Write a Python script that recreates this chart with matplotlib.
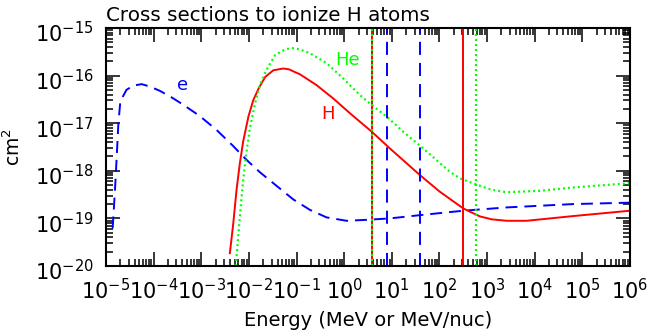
import matplotlib
matplotlib.use("Agg")
import matplotlib.pyplot as plt
from matplotlib.ticker import FixedLocator, NullFormatter, LogFormatterMathtext
from matplotlib.transforms import ScaledTranslation

plt.rcParams['font.family'] = ['DejaVu Sans']
plt.rcParams['lines.scale_dashes'] = False

# Electron impact ionization of H (E in MeV, sigma in cm^2)
e_energy = [1.38e-5, 1.55e-5, 1.68e-5, 1.82e-5, 2.0e-5, 2.69e-5, 3.72e-5, 5.62e-5,
            8.32e-5, 1.35e-4, 2.40e-4, 4.17e-4, 9.33e-4, 2.09e-3, 4.68e-3, 8.91e-3,
            1.70e-2, 3.16e-2, 8.51e-2, 0.191, 0.427, 1.12, 2.95, 9.12, 38.9, 316,
            2570, 6.46e4, 1.0e6]
e_sigma = [6.17e-20, 4.27e-19, 2.00e-18, 1.00e-17, 2.88e-17, 5.01e-17, 6.17e-17, 6.61e-17,
           5.89e-17, 4.79e-17, 3.47e-17, 2.45e-17, 1.41e-17, 7.24e-18, 3.31e-18, 1.70e-18,
           9.33e-19, 5.62e-19, 2.51e-19, 1.51e-19, 1.05e-19, 8.91e-20, 9.33e-20, 1.00e-19,
           1.17e-19, 1.45e-19, 1.70e-19, 2.00e-19, 2.14e-19]

# Proton (H) impact
h_energy = [3.98e-3, 4.68e-3, 5.50e-3, 6.46e-3, 7.59e-3, 9.77e-3, 1.23e-2, 1.58e-2,
            2.19e-2, 3.24e-2, 5.25e-2, 7.00e-2, 8.51e-2, 0.117, 0.263, 0.589, 1.32, 3.80, 9.12,
            38.9, 102, 316, 708, 1260, 2570, 6760, 6.46e4, 1.0e6]
h_sigma = [1.86e-20, 7.59e-20, 3.98e-19, 1.45e-18, 4.17e-18, 1.38e-17, 3.02e-17, 5.25e-17,
           9.33e-17, 1.29e-16, 1.41e-16, 1.35e-16, 1.23e-16, 1.07e-16, 6.31e-17, 3.31e-17, 1.62e-17,
           6.61e-18, 2.95e-18, 8.13e-19, 3.63e-19, 1.62e-19, 1.10e-19, 9.55e-20, 8.91e-20,
           8.91e-20, 1.12e-19, 1.45e-19]

# Helium impact
he_energy = [5.25e-3, 5.50e-3, 6.46e-3, 7.59e-3, 8.91e-3, 1.05e-2, 1.35e-2, 1.70e-2,
             2.34e-2, 3.55e-2, 5.75e-2, 7.94e-2, 0.117, 0.191, 0.427, 0.955, 2.14, 3.80,
             7.76, 17.4, 45.7, 102, 166, 269, 562, 1260, 2570, 1.29e4, 6.46e4, 1.0e6]
he_sigma = [1.0e-20, 1.58e-20, 1.10e-19, 6.46e-19, 2.51e-18, 7.94e-18, 2.63e-17, 6.31e-17,
            1.32e-16, 2.69e-16, 3.55e-16, 3.80e-16, 3.55e-16, 2.95e-16, 1.82e-16, 8.71e-17,
            3.89e-17, 2.40e-17, 1.38e-17, 6.61e-18, 2.95e-18, 1.45e-18, 9.55e-19, 6.92e-19,
            5.25e-19, 3.98e-19, 3.55e-19, 3.80e-19, 4.47e-19, 5.50e-19]

# Vertical marker energies
red_marks = [3.78, 309]
blue_marks = [8.1, 39]
green_marks = [3.78, 590]

# Axis decades
x_decades = [1e-5, 1e-4, 1e-3, 1e-2, 1e-1, 1e0, 1e1, 1e2, 1e3, 1e4, 1e5, 1e6]
y_decades = [1e-20, 1e-19, 1e-18, 1e-17, 1e-16, 1e-15]

RED, GREEN, BLUE = '#ff0000', '#00ff00', '#0000ff'
DASH = (8.6, 5.0)
DOT = (1.4, 2.2)

fig = plt.figure(figsize=(6.55, 3.34), dpi=100)
ax = fig.add_axes([106/655, 1-266/334, 524/655, 238/334])

ax.set_xscale('log')
ax.set_yscale('log')
ax.set_xlim(x_decades[0], x_decades[-1])
ax.set_ylim(y_decades[0], y_decades[-1])

ax.plot(e_energy, e_sigma, color=BLUE, lw=1.4, dashes=DASH)
ax.plot(h_energy, h_sigma, color=RED, lw=1.4)
ax.plot(he_energy, he_sigma, color=GREEN, lw=1.6, dashes=DOT)

for x in red_marks:
    ax.axvline(x, color=RED, lw=1.4)
for x in blue_marks:
    ax.axvline(x, color=BLUE, lw=1.4, dashes=(9.4, 5.8))
for x in green_marks:
    ax.axvline(x, color=GREEN, lw=1.6, dashes=DOT)

ax.text(4.07e-4, 6.3e-17, 'e', color=BLUE, fontsize=13, ha='center', va='center')
ax.text(1.17, 2.09e-16, 'He', color=GREEN, fontsize=13, ha='center', va='center')
ax.text(0.447, 1.55e-17, 'H', color=RED, fontsize=13, ha='center', va='center')

def minors(decades):
    out = []
    for d in decades[:-1]:
        out.extend([d * k for k in range(2, 10)])
    return out

ax.xaxis.set_major_locator(FixedLocator(x_decades))
ax.xaxis.set_minor_locator(FixedLocator(minors(x_decades)))
ax.xaxis.set_major_formatter(LogFormatterMathtext())
ax.xaxis.set_minor_formatter(NullFormatter())
ax.yaxis.set_major_locator(FixedLocator(y_decades))
ax.yaxis.set_minor_locator(FixedLocator(minors(y_decades)))
ax.yaxis.set_major_formatter(LogFormatterMathtext())
ax.yaxis.set_minor_formatter(NullFormatter())

ax.tick_params(which='both', direction='in', top=True, right=True, width=1.1, color='black')
ax.tick_params(which='major', length=10, labelsize=15)
ax.tick_params(axis='x', which='major', pad=9)
ax.tick_params(axis='y', which='major', pad=9)
ax.tick_params(which='minor', length=5)
for s in ax.spines.values():
    s.set_linewidth(1.5)

shift = ScaledTranslation(0, -4/100, fig.dpi_scale_trans)
for lab in ax.get_yticklabels():
    lab.set_transform(lab.get_transform() + shift)

ax.set_xlabel('Energy (MeV or MeV/nuc)', fontsize=14, labelpad=5)
ax.set_ylabel('cm$^2$', fontsize=13.5, labelpad=8)
ax.set_title('Cross sections to ionize H atoms', loc='left', fontsize=14.3, pad=5)

fig.savefig('out.png', dpi=100)
